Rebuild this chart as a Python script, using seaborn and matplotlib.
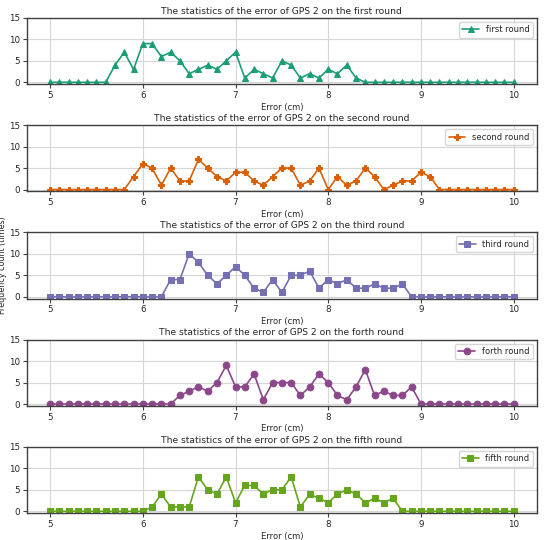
import numpy as np
import pandas as pd
import matplotlib
matplotlib.use("Agg")
import matplotlib.pyplot as plt
import seaborn as sns

error_cm = [round(5.0 + 0.1 * i, 1) for i in range(51)]

first_round = [0, 0, 0, 0, 0, 0, 0, 4, 7, 3, 9, 9, 6, 7, 5, 2, 3, 4, 3, 5, 7,
               1, 3, 2, 1, 5, 4, 1, 2, 1, 3, 2, 4, 1, 0, 0, 0, 0, 0, 0, 0,
               0, 0, 0, 0, 0, 0, 0, 0, 0, 0]
second_round = [0, 0, 0, 0, 0, 0, 0, 0, 0, 3, 6, 5, 1, 5, 2, 2, 7, 5, 3, 2, 4,
                4, 2, 1, 3, 5, 5, 1, 2, 5, 0, 3, 1, 2, 5, 3, 0, 1, 2, 2, 4,
                3, 0, 0, 0, 0, 0, 0, 0, 0, 0]
third_round = [0, 0, 0, 0, 0, 0, 0, 0, 0, 0, 0, 0, 0, 4, 4, 10, 8, 5, 3, 5, 7,
               5, 2, 1, 4, 1, 5, 5, 6, 2, 4, 3, 4, 2, 2, 3, 2, 2, 3, 0, 0,
               0, 0, 0, 0, 0, 0, 0, 0, 0, 0]
forth_round = [0, 0, 0, 0, 0, 0, 0, 0, 0, 0, 0, 0, 0, 0, 2, 3, 4, 3, 5, 9, 4,
               4, 7, 1, 5, 5, 5, 2, 4, 7, 5, 2, 1, 4, 8, 2, 3, 2, 2, 4, 0,
               0, 0, 0, 0, 0, 0, 0, 0, 0, 0]
fifth_round = [0, 0, 0, 0, 0, 0, 0, 0, 0, 0, 0, 1, 4, 1, 1, 1, 8, 5, 4, 8, 2,
               6, 6, 4, 5, 5, 8, 1, 4, 3, 2, 4, 5, 4, 2, 3, 2, 3, 0, 0, 0,
               0, 0, 0, 0, 0, 0, 0, 0, 0, 0]

round_names = ["first", "second", "third", "forth", "fifth"]
series = [first_round, second_round, third_round, forth_round, fifth_round]
colors = ["#1b9e77", "#d95f02", "#7570b3", "#8b4789", "#66a61e"]
markers = ["^", "P", "s", "o", "s"]
msizes = [4.3, 4.8, 4.3, 4.8, 3.8]

sns.set_style("whitegrid", {
    "axes.edgecolor": "0.25",
    "grid.color": "0.84",
    "xtick.bottom": True,
    "ytick.left": True,
})
plt.rcParams["font.family"] = ["DejaVu Sans"]

fig, axes = plt.subplots(5, 1, figsize=(5.5, 5.4), dpi=100)
fig.subplots_adjust(left=0.049, right=0.976, bottom=0.05, top=0.967, hspace=0.62)

for ax, name, vals, c, m, ms in zip(axes, round_names, series, colors, markers, msizes):
    df = pd.DataFrame({"x": error_cm, "y": vals})
    sns.lineplot(data=df, x="x", y="y", ax=ax, color=c, marker=m,
                 markersize=ms, markeredgecolor=c, linewidth=1.2,
                 label=f"{name} round")
    ax.set_title(f"The statistics of the error of GPS 2 on the {name} round",
                 fontsize=6.6, pad=3)
    ax.set_xlim(4.75, 10.25)
    ax.set_ylim(-0.4, 15)
    ax.set_yticks([0, 5, 10, 15])
    ax.set_xticks([5, 6, 7, 8, 9, 10])
    ax.set_xlabel("Error (cm)", fontsize=6, labelpad=2)
    ax.set_ylabel("")
    ax.tick_params(labelsize=6.3, length=3, width=0.8, pad=2, color="0.25")
    for sp in ax.spines.values():
        sp.set_linewidth(1.0)
    ax.legend(loc="upper right", fontsize=6, frameon=True, handlelength=2,
              borderpad=0.4, framealpha=0.8)

axes[2].set_ylabel("Frequency count (times)", fontsize=5.8, labelpad=1)

fig.savefig("out.png", dpi=100)
